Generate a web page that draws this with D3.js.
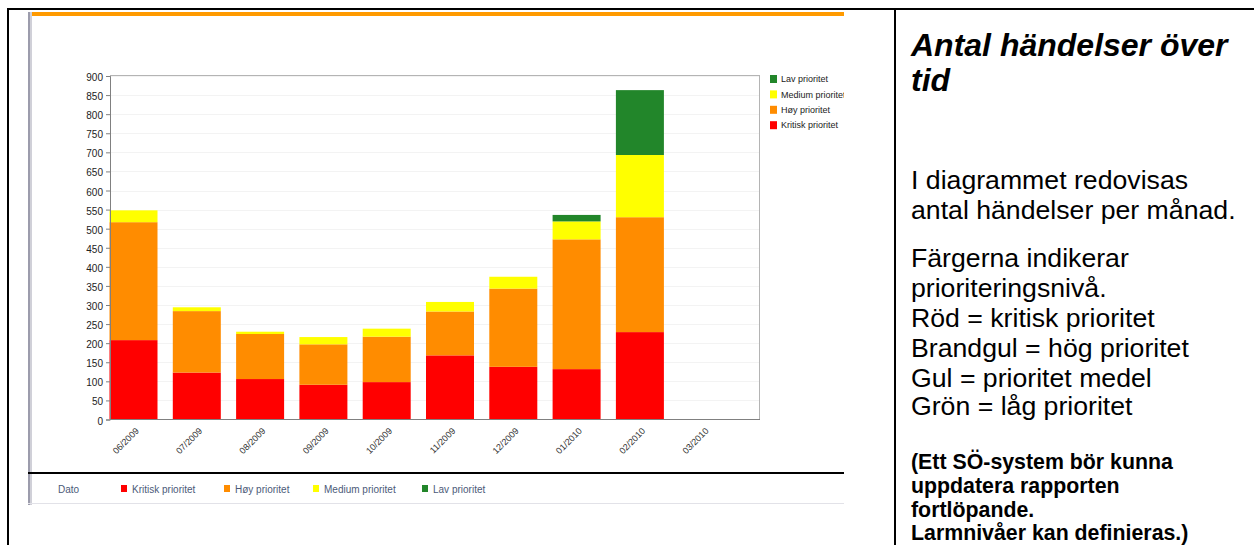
<!DOCTYPE html>
<html>
<head>
<meta charset="utf-8">
<script src="https://cdn.jsdelivr.net/npm/d3@7"></script>
<style>
  html, body { margin: 0; padding: 0; background: #fff; }
  svg { display: block; }
  text { font-family: "Liberation Sans", Arial, sans-serif; }
</style>
</head>
<body>
<svg id="page" width="1254" height="545"></svg>
<script>
// Monthly incident counts per priority level
const months  = ["06/2009","07/2009","08/2009","09/2009","10/2009","11/2009","12/2009","01/2010","02/2010","03/2010"];
const kritisk = [208, 123, 106,  91,  98, 168, 138, 132, 229, 0];
const hoy     = [309, 161, 118, 106, 119, 115, 205, 340, 301, 0];
const medium  = [ 31,  10,   6,  19,  21,  25,  31,  47, 163, 0];
const lav     = [  0,   0,   0,   0,   0,   0,   0,  17, 170, 0];
const yTicks  = [0,50,100,150,200,250,300,350,400,450,500,550,600,650,700,750,800,850,900];

const seriesKeys   = ["kritisk","hoy","medium","lav"];
const seriesNames  = ["Kritisk prioritet","Høy prioritet","Medium prioritet","Lav prioritet"];
const seriesColors = ["#ff0000","#ff8c00","#ffff00","#22862a"];

const rows = months.map((m, i) => ({month: m, kritisk: kritisk[i], hoy: hoy[i], medium: medium[i], lav: lav[i]}));
const stacked = d3.stack().keys(seriesKeys)(rows);

const svg = d3.select("#page");

// ---- outer table frame ----
svg.append("rect").attr("x", 7).attr("y", 8).attr("width", 1247).attr("height", 2).attr("fill", "#000");
svg.append("rect").attr("x", 7).attr("y", 8).attr("width", 2).attr("height", 537).attr("fill", "#000");
svg.append("rect").attr("x", 894).attr("y", 8).attr("width", 2).attr("height", 537).attr("fill", "#000");

// ---- report panel (clipped on the right) ----
const clip = svg.append("defs").append("clipPath").attr("id", "panelClip");
clip.append("rect").attr("x", 0).attr("y", 0).attr("width", 844).attr("height", 545);
const panel = svg.append("g").attr("clip-path", "url(#panelClip)");

panel.append("rect").attr("x", 28).attr("y", 12).attr("width", 2).attr("height", 493).attr("fill", "#9c9cac");
panel.append("rect").attr("x", 30).attr("y", 12).attr("width", 2).attr("height", 493).attr("fill", "#d0d0d8");
panel.append("rect").attr("x", 32).attr("y", 12).attr("width", 820).attr("height", 4).attr("fill", "#ff9a00");
panel.append("rect").attr("x", 28).attr("y", 472).attr("width", 820).attr("height", 2).attr("fill", "#000");
panel.append("rect").attr("x", 28).attr("y", 503).attr("width", 820).attr("height", 1).attr("fill", "#e2e2e8");

// ---- scales ----
const x = d3.scaleBand().domain(months).range([109.5, 727.2]).paddingInner(0.2417).paddingOuter(0).align(0);
const y = d3.scaleLinear().domain([0, 900]).range([419.5, 76]);
const plotLeft = 110, plotRight = 760, plotTop = 75, plotBottom = 419.5;

// faint grid
panel.append("g").selectAll("line").data(yTicks.filter(t => t > 0)).join("line")
  .attr("x1", plotLeft).attr("x2", plotRight)
  .attr("y1", d => Math.round(y(d)) + 0.5).attr("y2", d => Math.round(y(d)) + 0.5)
  .attr("stroke", "#f3f3f3").attr("stroke-width", 1);

// plot frame
panel.append("rect").attr("x", plotLeft + 0.5).attr("y", plotTop + 0.5)
  .attr("width", plotRight - plotLeft - 1).attr("height", plotBottom - plotTop - 0.5)
  .attr("fill", "none").attr("stroke", "#b4b4b4");

// stacked bars
panel.append("g").selectAll("g").data(stacked).join("g")
  .attr("fill", (d, i) => seriesColors[i])
  .selectAll("rect").data(d => d).join("rect")
  .attr("x", d => x(d.data.month))
  .attr("width", x.bandwidth())
  .attr("y", d => y(d[1]))
  .attr("height", d => y(d[0]) - y(d[1]));

// y axis
const yAxis = panel.append("g").attr("transform", `translate(${plotLeft},0)`)
  .call(d3.axisLeft(y).tickValues(yTicks).tickSize(4).tickPadding(3).tickFormat(d3.format("d")));
yAxis.select(".domain").attr("stroke", "#808080");
yAxis.selectAll(".tick line").attr("stroke", "#808080");
yAxis.selectAll(".tick text").attr("font-size", 10).attr("fill", "#222").attr("dy", "0.45em")
  .attr("font-family", "'Liberation Sans', Arial, sans-serif");

// x axis line and labels
panel.append("line").attr("x1", plotLeft).attr("x2", plotRight)
  .attr("y1", plotBottom).attr("y2", plotBottom).attr("stroke", "#808080");
const xAxis = panel.append("g").attr("transform", `translate(0,${plotBottom})`)
  .call(d3.axisBottom(x).tickSize(0).tickPadding(0));
xAxis.select(".domain").remove();
xAxis.selectAll(".tick text")
  .attr("font-size", 9).attr("fill", "#333").attr("font-family", "'Liberation Sans', Arial, sans-serif")
  .attr("text-anchor", "end").attr("dy", 0).attr("y", 0)
  .attr("transform", "translate(6,12) rotate(-45)");

// legend beside the plot (top entry = top of stack)
const legend = panel.append("g");
const legendOrder = [3, 2, 1, 0];
legendOrder.forEach((k, i) => {
  const ly = 79 + i * 15.4;
  legend.append("rect").attr("x", 770).attr("y", ly - 4).attr("width", 7).attr("height", 8).attr("fill", seriesColors[k]);
  legend.append("text").attr("x", 781).attr("y", ly + 3.2).attr("font-size", 9).attr("fill", "#222").text(seriesNames[k]);
});

// bottom legend row
const bottom = panel.append("g").attr("font-size", 10).attr("fill", "#4c5a78");
bottom.append("text").attr("x", 58).attr("y", 493).text("Dato");
const bx = [121, 224, 313, 422];
seriesNames.forEach((n, i) => {
  bottom.append("rect").attr("x", bx[i]).attr("y", 485).attr("width", 6).attr("height", 7).attr("fill", seriesColors[i]);
  bottom.append("text").attr("x", bx[i] + 11).attr("y", 493).text(n);
});

// ---- description panel ----
const desc = svg.append("g").attr("fill", "#000");
const tx = 911;
desc.append("text").attr("x", tx).attr("y", 56).attr("font-size", 32).attr("font-weight", "bold").attr("font-style", "italic").text("Antal händelser över");
desc.append("text").attr("x", tx).attr("y", 91).attr("font-size", 32).attr("font-weight", "bold").attr("font-style", "italic").text("tid");

const bodyLines = [
  ["I diagrammet redovisas", 189],
  ["antal händelser per månad.", 219],
  ["Färgerna indikerar", 267],
  ["prioriteringsnivå.", 297],
  ["Röd = kritisk prioritet", 327],
  ["Brandgul = hög prioritet", 357],
  ["Gul = prioritet medel", 387],
  ["Grön = låg prioritet", 415]
];
bodyLines.forEach(([t, by]) => {
  desc.append("text").attr("x", tx).attr("y", by).attr("font-size", 26.67).text(t);
});

const noteLines = [
  ["(Ett SÖ-system bör kunna", 469],
  ["uppdatera rapporten", 493],
  ["fortlöpande.", 517],
  ["Larmnivåer kan definieras.)", 540]
];
noteLines.forEach(([t, by]) => {
  desc.append("text").attr("x", tx).attr("y", by).attr("font-size", 21.33).attr("font-weight", "bold").text(t);
});
</script>
</body>
</html>
